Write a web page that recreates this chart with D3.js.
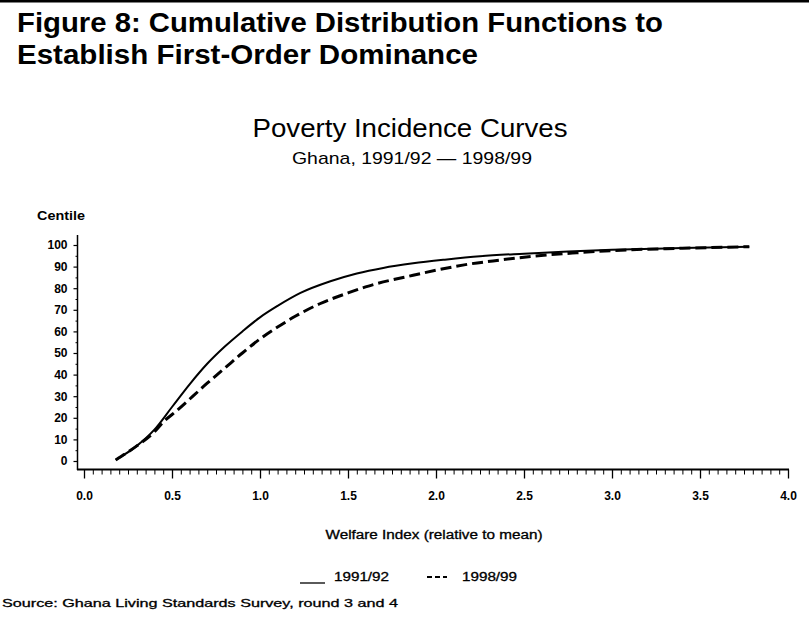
<!DOCTYPE html>
<html>
<head>
<meta charset="utf-8">
<script src="https://cdn.jsdelivr.net/npm/d3@7"></script>
<style>
html,body{margin:0;padding:0;background:#fff;}
svg{display:block;}
</style>
</head>
<body>
<svg id="chart" width="809" height="632"></svg>
<script>
// ---- data ----
const figTitleLines = ["Figure 8: Cumulative Distribution Functions to", "Establish First-Order Dominance"];
const chartTitle = "Poverty Incidence Curves";
const chartSubtitle = "Ghana, 1991/92 \u2014 1998/99";
const yAxisTitle = "Centile";
const xAxisTitle = "Welfare Index (relative to mean)";
const sourceNote = "Source: Ghana Living Standards Survey, round 3 and 4";
const seriesNames = ["1991/92", "1998/99"];
const xTicks = [0.0, 0.5, 1.0, 1.5, 2.0, 2.5, 3.0, 3.5, 4.0];
const yTicks = [0, 10, 20, 30, 40, 50, 60, 70, 80, 90, 100];

const welfare9192 = [0.18, 0.3, 0.4, 0.5, 0.6, 0.7, 0.8, 0.9, 1.0, 1.1, 1.23, 1.4, 1.55, 1.7, 1.87, 2.05, 2.25, 2.5, 2.75, 3.0, 3.4, 3.78];
const centile9192 = [0.5, 7, 14.5, 25, 35.5, 45, 53, 60, 66.5, 71.8, 77.8, 83.2, 86.8, 89.4, 91.5, 93.2, 94.8, 96, 97, 97.8, 98.6, 99.2];

const welfare9899 = [0.18, 0.3, 0.4, 0.45, 0.53, 0.7, 0.8, 0.9, 1.0, 1.1, 1.2, 1.34, 1.5, 1.6, 1.87, 2.0, 2.16, 2.36, 2.55, 2.8, 3.0, 3.4, 3.78];
const centile9899 = [0.5, 7, 13.5, 18, 23.5, 36, 43, 50, 56.5, 62, 67, 72.8, 77.8, 80.6, 86, 88.3, 90.8, 93, 94.8, 96.4, 97.4, 98.5, 99.2];

// ---- layout ----
const svg = d3.select("#chart");
const x = d3.scaleLinear().domain([0, 4]).range([84, 788]);
const y = d3.scaleLinear().domain([0, 100]).range([461, 245]);
const labFont = "'Liberation Sans', Arial, sans-serif";

// top border
svg.append("rect").attr("x", 0).attr("y", 0).attr("width", 809).attr("height", 2.5).attr("fill", "#000");

// figure title
svg.selectAll("text.figt").data(figTitleLines).enter().append("text")
  .attr("class", "figt")
  .attr("x", 17).attr("y", (d, i) => 32 + i * 32)
  .attr("font-family", labFont).attr("font-weight", "bold").attr("font-size", 27)
  .attr("textLength", (d, i) => i === 0 ? 646 : 461).attr("lengthAdjust", "spacingAndGlyphs")
  .text(d => d);

// chart title
svg.append("text").attr("x", 410).attr("y", 137).attr("text-anchor", "middle")
  .attr("font-family", labFont).attr("font-size", 26)
  .attr("textLength", 315).attr("lengthAdjust", "spacingAndGlyphs")
  .text(chartTitle);
svg.append("text").attr("x", 412).attr("y", 164).attr("text-anchor", "middle")
  .attr("font-family", labFont).attr("font-size", 17)
  .attr("textLength", 240).attr("lengthAdjust", "spacingAndGlyphs")
  .text(chartSubtitle);

// y axis title
svg.append("text").attr("x", 37).attr("y", 220)
  .attr("font-family", labFont).attr("font-weight", "bold").attr("font-size", 12)
  .attr("textLength", 48).attr("lengthAdjust", "spacingAndGlyphs")
  .text(yAxisTitle);

// axes lines
svg.append("line").attr("x1", 77.5).attr("x2", 77.5).attr("y1", 235).attr("y2", 470)
  .attr("stroke", "#000").attr("stroke-width", 1.5);
svg.append("line").attr("x1", 77).attr("x2", 789).attr("y1", 469.5).attr("y2", 469.5)
  .attr("stroke", "#000").attr("stroke-width", 2);

// y axis ticks
const yAxis = d3.axisLeft(y).tickValues(yTicks).tickSize(4).tickPadding(6).tickFormat(d3.format("d"));
const gy = svg.append("g").attr("transform", "translate(77.5,0)").call(yAxis);
gy.select(".domain").remove();
gy.selectAll("line").attr("stroke-width", 1.2);
gy.selectAll("text").attr("font-family", labFont).attr("font-weight", "bold").attr("font-size", 12).attr("fill", "#000");
const yMinor = d3.axisLeft(y).tickValues(d3.range(5, 100, 10)).tickSize(2).tickFormat("");
const gym = svg.append("g").attr("transform", "translate(77.5,0)").call(yMinor);
gym.select(".domain").remove();

// x axis ticks
const xAxis = d3.axisBottom(x).tickValues(xTicks).tickSize(9).tickPadding(13).tickFormat(d3.format(".1f"));
const gx = svg.append("g").attr("transform", "translate(0,469.5)").call(xAxis);
gx.select(".domain").remove();
gx.selectAll("line").attr("stroke-width", 1.3);
gx.selectAll("text").attr("font-family", labFont).attr("font-weight", "bold").attr("font-size", 12).attr("fill", "#000");
const minorX = d3.range(0, 81).map(i => i * 0.05).filter((d, i) => i % 10 !== 0);
const xMinor = d3.axisBottom(x).tickValues(minorX).tickSize(5).tickFormat("");
const gxm = svg.append("g").attr("transform", "translate(0,469.5)").call(xMinor);
gxm.select(".domain").remove();

// x axis title
svg.append("text").attr("x", 434).attr("y", 539).attr("text-anchor", "middle")
  .attr("font-family", labFont).attr("font-size", 12)
  .attr("textLength", 217).attr("lengthAdjust", "spacingAndGlyphs")
  .attr("stroke", "#000").attr("stroke-width", 0.3)
  .text(xAxisTitle);

// curves
const line = d3.line().x(d => x(d[0])).y(d => y(d[1])).curve(d3.curveMonotoneX);
const s1 = welfare9192.map((w, i) => [w, centile9192[i]]);
const s2 = welfare9899.map((w, i) => [w, centile9899[i]]);
svg.append("path").datum(s2).attr("d", line).attr("fill", "none").attr("stroke", "#000")
  .attr("stroke-width", 3).attr("stroke-dasharray", "11,5");
svg.append("path").datum(s1).attr("d", line).attr("fill", "none").attr("stroke", "#000")
  .attr("stroke-width", 2);

// legend
svg.append("line").attr("x1", 300).attr("x2", 325).attr("y1", 583).attr("y2", 583).attr("stroke", "#000").attr("stroke-width", 1.3);
svg.append("text").attr("x", 334).attr("y", 581)
  .attr("font-family", labFont).attr("font-size", 12)
  .attr("stroke", "#000").attr("stroke-width", 0.3)
  .attr("textLength", 55).attr("lengthAdjust", "spacingAndGlyphs").text(seriesNames[0]);
svg.append("line").attr("x1", 427).attr("x2", 447).attr("y1", 577).attr("y2", 577).attr("stroke", "#000")
  .attr("stroke-width", 2).attr("stroke-dasharray", "5,3");
svg.append("text").attr("x", 462).attr("y", 581)
  .attr("font-family", labFont).attr("font-size", 12)
  .attr("stroke", "#000").attr("stroke-width", 0.3)
  .attr("textLength", 55).attr("lengthAdjust", "spacingAndGlyphs").text(seriesNames[1]);

// source
svg.append("text").attr("x", 2).attr("y", 607)
  .attr("font-family", labFont).attr("font-size", 11)
  .attr("textLength", 396).attr("lengthAdjust", "spacingAndGlyphs")
  .attr("stroke", "#000").attr("stroke-width", 0.3)
  .text(sourceNote);
</script>
</body>
</html>
